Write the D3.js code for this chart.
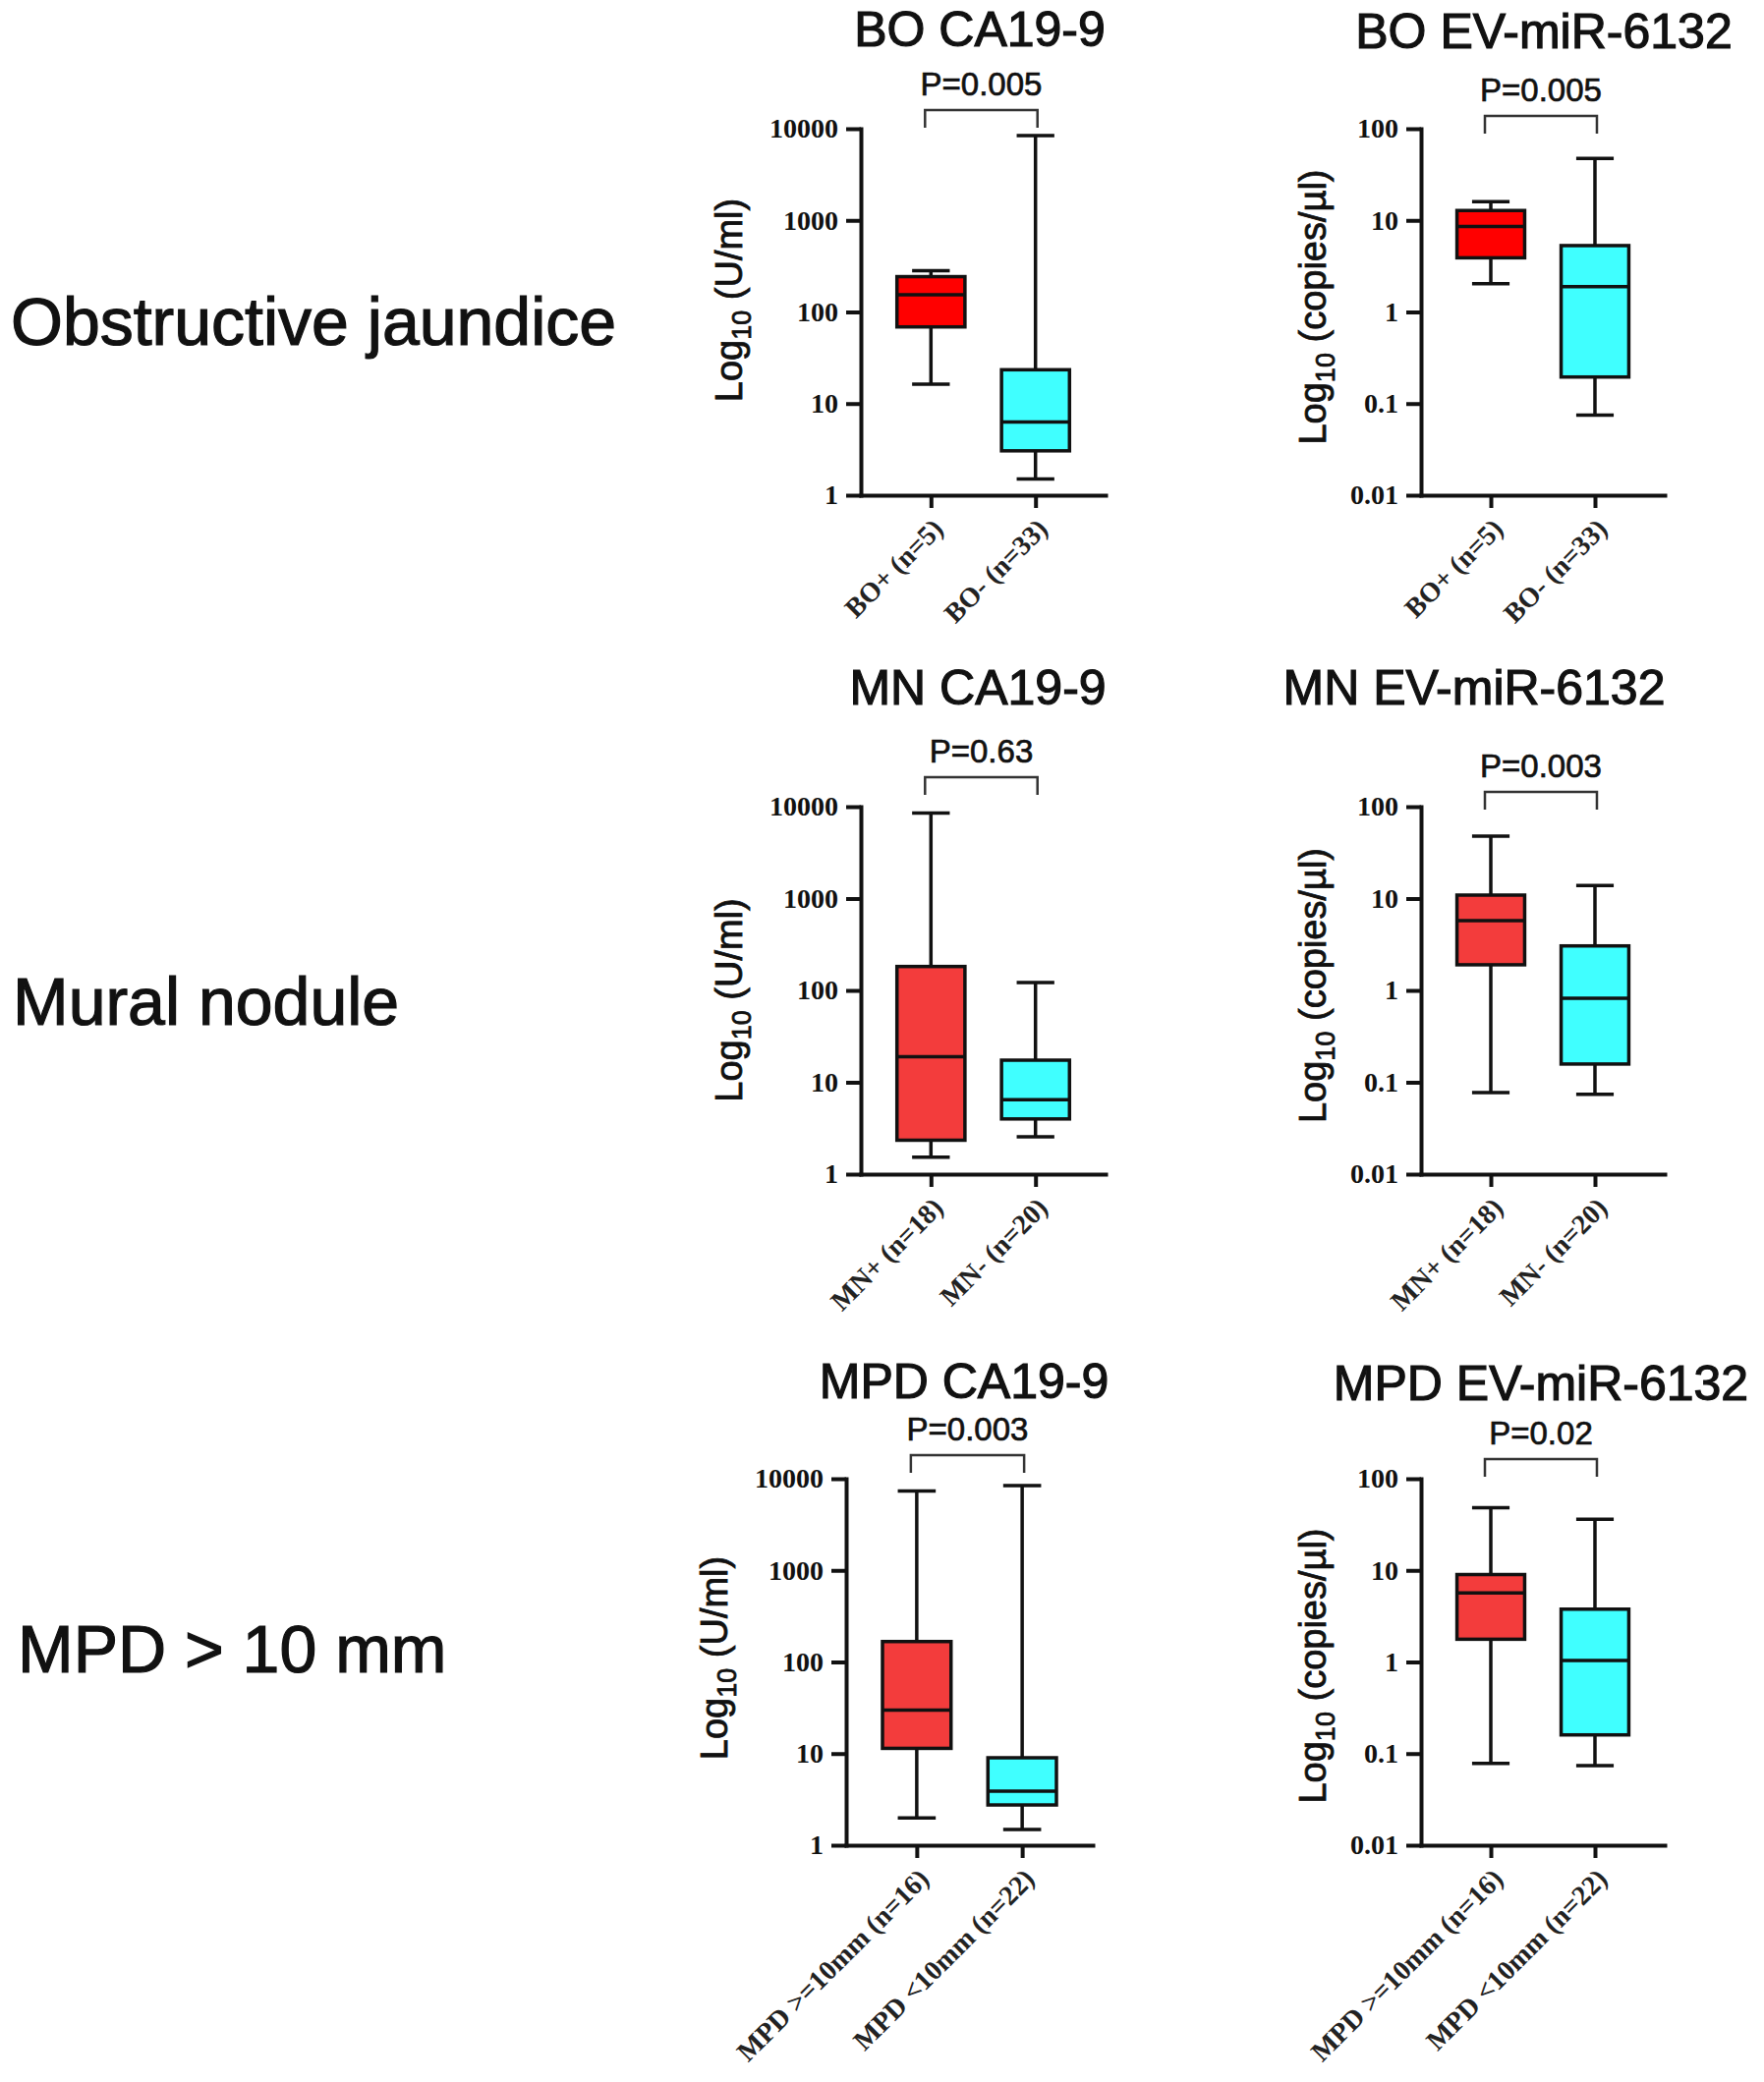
<!DOCTYPE html>
<html>
<head>
<meta charset="utf-8">
<title></title>
<script src="https://d3js.org/d3.v7.min.js"></script>
<style>
	body { margin: 0; background: #fff; }
	.axis path, .axis line { stroke: #111; stroke-width: 4; }
	.axis text { font-family: "Liberation Serif", "Times New Roman", serif; font-weight: bold; font-size: 28px; fill: #111; }
	.heavy { stroke: #111; stroke-width: 1.2; }
</style>
</head>
<body>
<svg width="1795" height="2119"></svg>
<script>

// ---- values ----
var rowLabels = ["Obstructive jaundice", "Mural nodule", "MPD > 10 mm"];
var titles = [["BO CA19-9", "BO EV-miR-6132"], ["MN CA19-9", "MN EV-miR-6132"], ["MPD CA19-9", "MPD EV-miR-6132"]];
var pValues = [["P=0.005", "P=0.005"], ["P=0.63", "P=0.003"], ["P=0.003", "P=0.02"]];
var groups = [["BO+ (n=5)", "BO- (n=33)"], ["MN+ (n=18)", "MN- (n=20)"], ["MPD >=10mm (n=16)", "MPD <10mm (n=22)"]];
var units = ["U/ml", "copies/µl"];
var ca199Ticks = [1, 10, 100, 1000, 10000];
var mirTicks = [0.01, 0.1, 1, 10, 100];

// [min, q1, median, q3, max] for the (+) group and the (-) group
var boCA199 = [[16.3, 68.7, 154, 243, 282], [1.5, 3.05, 6.3, 23.4, 8400]];
var boMir = [[2.04, 3.9, 8.55, 12.8, 16], [0.075, 0.195, 1.89, 5.3, 47.4]];
var mnCA199 = [[1.53, 2.34, 19, 182, 8530], [2.55, 3.99, 6.45, 17.4, 122]];
var mnMir = [[0.077, 1.9, 5.74, 10.9, 47.8], [0.074, 0.158, 0.82, 3.05, 13.9]];
var mpdCA199 = [[1.98, 11.4, 29.8, 167, 7330], [1.48, 2.75, 3.89, 9.0, 8410]];
var mpdMir = [[0.078, 1.77, 5.66, 9.0, 48.2], [0.074, 0.16, 1.04, 3.77, 36]];

var stats = [[boCA199, boMir], [mnCA199, mnMir], [mpdCA199, mpdMir]];

// ---- layout ----
var rowTop = [131, 821, 1505], rowBottom = [504, 1195, 1878];
var colLeft = [[876, 1446], [876, 1446], [861, 1446]];
var colRight = [[1125, 1694], [1125, 1694], [1112, 1694]];
var titleX = [[997, 1571], [995, 1500], [981, 1568]];
var titleY = [[47, 49], [717, 717], [1423, 1425]];
var bracketY = [[112, 118], [791, 806], [1481, 1485]];
var rowLabelX = [11, 13, 18], rowLabelY = [351, 1043, 1702];
var ylabOffset = [121, 97];
var ylabShift = [[-12, -5], [10, -5], [-4, 4]];
var redFill = ["#ff0000", "#f33c3c", "#f33c3c"], cyanFill = "#40ffff";

var svg = d3.select("svg");
svg.append("rect").attr("width", 1795).attr("height", 2119).attr("fill", "#fff");

rowLabels.forEach(function (lab, r) {
	svg.append("text")
		.attr("class", "heavy")
		.attr("x", rowLabelX[r])
		.attr("y", rowLabelY[r])
		.attr("font-family", "Liberation Sans, Arial, sans-serif")
		.attr("font-size", 68)
		.attr("fill", "#111")
		.text(lab);
});

function drawPanel(r, c) {
	var g = svg.append("g");
	var top = rowTop[r], bot = rowBottom[r];
	var x0 = colLeft[r][c], x1 = colRight[r][c];
	var ticks = c == 0 ? ca199Ticks : mirTicks;

	var y = d3.scaleLog()
		.domain([ticks[0], ticks[ticks.length - 1]])
		.range([bot, top]);

	var x = d3.scalePoint()
		.domain(groups[r])
		.range([x0, x1])
		.padding(0.67);

	// title + p value
	g.append("text")
		.attr("class", "heavy")
		.attr("x", titleX[r][c])
		.attr("y", titleY[r][c])
		.attr("text-anchor", "middle")
		.attr("font-family", "Liberation Sans, Arial, sans-serif")
		.attr("font-size", 50)
		.attr("fill", "#111")
		.text(titles[r][c]);

	var bx0 = x(groups[r][0]) - 6, bx1 = x(groups[r][1]) + 2, by = bracketY[r][c];
	g.append("path")
		.attr("d", "M" + bx0 + "," + (by + 18) + "V" + by + "H" + bx1 + "V" + (by + 18))
		.attr("fill", "none")
		.attr("stroke", "#333")
		.attr("stroke-width", 2.5);

	g.append("text")
		.attr("x", (bx0 + bx1) / 2)
		.attr("y", by - 15)
		.attr("text-anchor", "middle")
		.attr("font-family", "Liberation Sans, Arial, sans-serif")
		.attr("font-size", 33)
		.attr("fill", "#111")
		.attr("stroke", "#111")
		.attr("stroke-width", 0.7)
		.text(pValues[r][c]);

	// boxes
	var step = x.step();
	var boxes = g.selectAll(".box")
		.data(stats[r][c])
		.enter().append("g")
		.attr("class", "box")
		.attr("transform", function (d, i) { return "translate(" + x(groups[r][i]) + ",0)"; });

	boxes.append("line")
		.attr("y1", function (d) { return y(d[0]); })
		.attr("y2", function (d) { return y(d[4]); })
		.attr("stroke", "#111").attr("stroke-width", 3.5);

	boxes.selectAll(".cap")
		.data(function (d) { return [d[0], d[4]]; })
		.enter().append("line")
		.attr("x1", -step * 0.18).attr("x2", step * 0.18)
		.attr("y1", y).attr("y2", y)
		.attr("stroke", "#111").attr("stroke-width", 3.5);

	boxes.append("rect")
		.attr("x", -step * 0.325)
		.attr("width", step * 0.65)
		.attr("y", function (d) { return y(d[3]); })
		.attr("height", function (d) { return y(d[1]) - y(d[3]); })
		.attr("fill", function (d, i) { return i == 0 ? redFill[r] : cyanFill; })
		.attr("stroke", "#111").attr("stroke-width", 3.5);

	boxes.append("line")
		.attr("x1", -step * 0.325).attr("x2", step * 0.325)
		.attr("y1", function (d) { return y(d[2]); })
		.attr("y2", function (d) { return y(d[2]); })
		.attr("stroke", "#111").attr("stroke-width", 3.5);

	// axes
	g.append("g")
		.attr("class", "axis")
		.attr("transform", "translate(0," + bot + ")")
		.call(d3.axisBottom(x).tickSize(13).tickSizeOuter(0).tickFormat(""));

	g.append("g")
		.attr("class", "axis")
		.attr("transform", "translate(" + x0 + ",0)")
		.call(d3.axisLeft(y).tickValues(ticks).tickSize(15).tickSizeOuter(0).tickPadding(8).tickFormat(d3.format("~g")));

	g.selectAll(".axis .domain").attr("stroke-linecap", "square");

	// rotated category labels
	groups[r].forEach(function (lab) {
		var px = x(lab) + 14, py = bot + 36;
		g.append("text")
			.attr("transform", "translate(" + px + "," + py + ") rotate(-45)")
			.attr("text-anchor", "end")
			.attr("font-family", "Liberation Serif, Times New Roman, serif")
			.attr("font-weight", "bold")
			.attr("font-size", 28)
			.attr("fill", "#222")
			.text(lab);
	});

	// y label with subscript
	var yl = g.append("text")
		.attr("transform", "translate(" + (x0 - ylabOffset[c]) + "," + ((top + bot) / 2 + ylabShift[r][c]) + ") rotate(-90)")
		.attr("text-anchor", "middle")
		.attr("font-family", "Liberation Sans, Arial, sans-serif")
		.attr("font-size", 38)
		.attr("fill", "#111")
		.attr("stroke", "#111")
		.attr("stroke-width", 0.8);
	yl.append("tspan").text("Log");
	yl.append("tspan").attr("font-size", 27).attr("dy", 9).text("10");
	yl.append("tspan").attr("dy", -9).text(" (" + units[c] + ")");
}

for (var r = 0; r < 3; r++) {
	drawPanel(r, 0);
	drawPanel(r, 1);
}

</script>
</body>
</html>
